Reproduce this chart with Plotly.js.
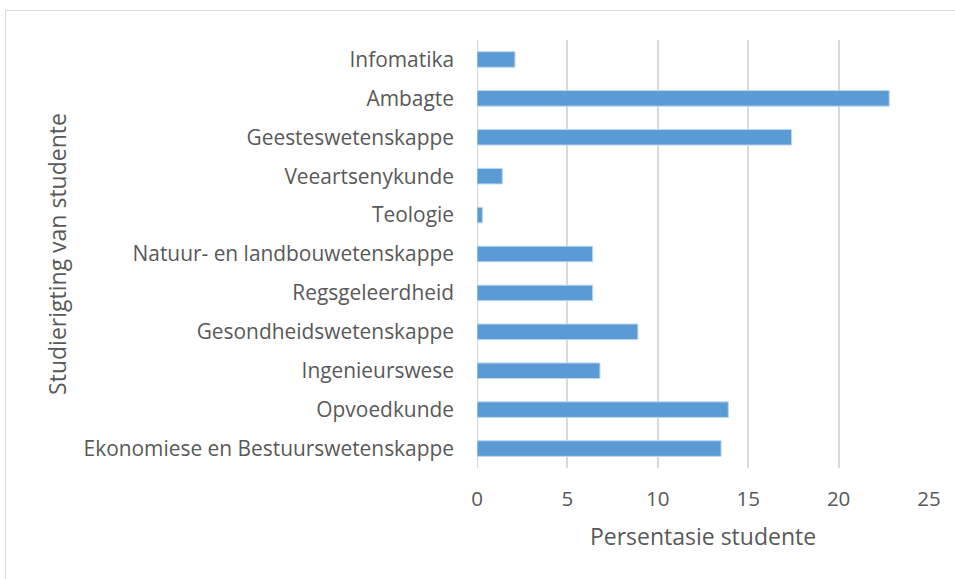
<!DOCTYPE html>
<html>
<head>
<meta charset="utf-8">
<script src="https://cdn.plot.ly/plotly-3.0.1.min.js"></script>
<style>
html,body{margin:0;padding:0;background:#fff;overflow:hidden;}
#frame{position:absolute;left:5px;top:10px;width:970px;height:600px;border:1px solid #d9d9d9;box-sizing:border-box;}
#chart{position:absolute;left:0;top:0;width:955px;height:579px;}
</style>
</head>
<body>
<div id="frame"></div>
<div id="chart"></div>
<script>
const categories = [
  "Ekonomiese en Bestuurswetenskappe",
  "Opvoedkunde",
  "Ingenieurswese",
  "Gesondheidswetenskappe",
  "Regsgeleerdheid",
  "Natuur- en landbouwetenskappe",
  "Teologie",
  "Veeartsenykunde",
  "Geesteswetenskappe",
  "Ambagte",
  "Infomatika"
];
const values = [13.5, 13.9, 6.8, 8.9, 6.4, 6.4, 0.3, 1.4, 17.4, 22.8, 2.1];
const xTicks = [0, 5, 10, 15, 20, 25];
const xTitle = "Persentasie studente";
const yTitle = "Studierigting van studente";

const fontFam = "'Open Sans', sans-serif";
const trace = {
  type: "bar",
  orientation: "h",
  x: values,
  y: categories,
  marker: {color: "#5b9bd5", line: {color: "#bdd7ee", width: 1}},
  hoverinfo: "x+y"
};
const layout = {
  width: 955, height: 579,
  margin: {l: 477, r: 26, t: 40, b: 111},
  paper_bgcolor: "rgba(0,0,0,0)",
  plot_bgcolor: "rgba(0,0,0,0)",
  bargap: 0.6,
  showlegend: false,
  font: {family: fontFam, color: "#595959", size: 18},
  xaxis: {
    range: [0, 25],
    tickvals: xTicks,
    ticktext: xTicks.map(String),
    showgrid: true, gridcolor: "#d9d9d9", gridwidth: 2,
    zeroline: false, showline: false,
    ticks: "", ticklabelstandoff: 16,
    tickfont: {size: 20.5, color: "#595959"},
    title: {text: xTitle, font: {size: 23, color: "#595959"}, standoff: 18}
  },
  yaxis: {
    type: "category",
    categoryorder: "array", categoryarray: categories,
    showgrid: false, zeroline: false, showline: false,
    ticks: "", ticklabelstandoff: 22,
    tickfont: {size: 20.9, color: "#595959"},
    title: {text: yTitle, font: {size: 23, color: "#595959"}, standoff: 10}
  },
  shapes: [{type: "line", xref: "x", yref: "paper", x0: 0, x1: 0, y0: 0, y1: 1,
            line: {color: "#d9d9d9", width: 2.5}, layer: "below"}]
};
Plotly.newPlot("chart", [trace], layout, {displayModeBar: false, staticPlot: true});
</script>
</body>
</html>
